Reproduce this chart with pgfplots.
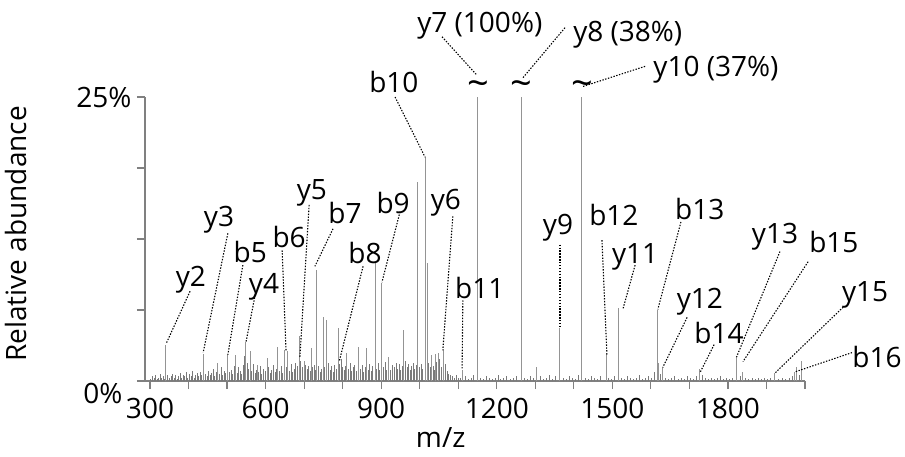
\documentclass[border=0pt]{standalone}
\usepackage{fontspec}
\setmainfont{Open Sans}
\usepackage{pgfplots}
\pgfplotsset{compat=1.18}
\tikzset{ptr/.style={black, line width=1.1pt, dash pattern=on 1.4pt off 1.5pt}}
\begin{document}
\fontsize{28}{33}\selectfont
\begin{tikzpicture}
\useasboundingbox (-145pt,-75pt) rectangle (760pt,381pt);
\begin{axis}[
  at={(0pt,0pt)}, anchor=south west,
  scale only axis, width=660pt, height=284pt,
  xmin=287, xmax=2000, ymin=0, ymax=25,
  axis lines=left,
  axis line style={-, black!50, line width=1.2pt},
  tick align=outside,
  major tick length=8pt, minor tick length=8pt,
  every tick/.style={black!50, line width=1.2pt},
  minor tick style={black!50, line width=1.2pt},
  xtick={300,600,...,1800},
  minor xtick={400,500,700,800,1000,1100,1300,1400,1600,1700,1900,2000},
  ytick={0}, yticklabels={0\%},
  yticklabel style={yshift=-12pt, xshift=-5pt},
  minor ytick={6.25,12.5,18.75},
  extra y ticks={25}, extra y tick labels={25\%},
  extra y tick style={yticklabel style={yshift=12pt, xshift=9pt}},
  /pgf/number format/assume math mode=true,
  /pgf/number format/set thousands separator={},
  tick label style={font=\fontsize{28}{33}\selectfont, black},
  clip mode=individual,
  xlabel={m/z}, ylabel={Relative abundance},
  label style={font=\fontsize{28}{33}\selectfont},
  xlabel style={at={(axis description cs:0.448,-0.20)}, anchor=center},
  ylabel style={at={(axis description cs:-0.1955,0.518)}, anchor=center},
]
% background noise
\addplot[ycomb, black!52, line width=0.6pt] coordinates {
(302,0.2)(306,0.4)(310,0.3)(314,0.5)(318,0.2)(322,0.3)(326,0.6)(330,0.3)(334,0.4)(338,0.2)
(346,0.5)(350,0.3)(354,0.4)(358,0.6)(362,0.3)(366,0.5)(370,0.2)(374,0.4)(378,0.7)(382,0.3)
(386,0.5)(390,0.4)(394,0.8)(398,0.3)(402,0.6)(406,0.4)(410,0.9)(414,0.3)(418,0.5)(422,0.7)
(426,0.4)(430,0.8)(434,0.5)(438,1.0)(444,0.6)(448,0.4)(452,0.9)(456,0.5)(460,0.7)(464,1.1)
(468,0.4)(472,0.8)(480,0.6)(484,1.2)(488,0.5)(492,0.9)(496,0.7)(506,0.8)(510,1.0)(514,0.6)
(518,1.3)(526,0.7)(530,1.2)(534,0.9)(538,0.6)(542,1.4)(546,2.2)(552,1.6)(556,1.1)(564,0.9)
(568,1.5)(572,0.7)(576,1.0)(582,0.8)(586,1.3)(590,0.6)(594,1.1)(598,0.9)(608,1.2)(612,0.7)
(616,1.0)(620,1.4)(624,0.8)(628,1.1)(636,0.9)(640,1.3)(644,0.7)(648,1.0)(654,1.2)(662,0.9)
(666,1.5)(670,0.8)(674,1.1)(678,1.6)(682,1.3)(691,1.8)(695,1.2)(704,1.4)(708,1.1)(712,1.3)
(716,0.9)(722,1.2)(726,1.4)(730,1.0)(737,1.3)(741,0.8)(745,1.1)(753,1.2)(757,0.9)(763,1.6)
(767,1.0)(771,1.3)(775,0.8)(779,1.4)(783,1.1)(792,1.5)(796,1.9)(800,1.2)(804,1.0)(808,1.3)
(815,1.1)(819,1.6)(823,0.9)(827,1.2)(831,1.4)(835,0.9)(846,1.1)(850,1.4)(854,0.8)(858,1.2)
(866,1.0)(870,1.5)(874,0.9)(878,1.3)(888,1.1)(892,1.6)(896,1.0)(906,1.2)(910,1.7)(914,1.0)
(918,1.3)(924,1.0)(928,1.4)(934,1.2)(938,1.6)(942,1.1)(946,1.5)(950,1.0)(954,1.3)(963,1.8)
(967,1.2)(971,1.5)(975,1.0)(979,1.3)(983,1.6)(987,1.1)(991,1.4)(999,1.2)(1004,1.5)(1008,1.1)
(1023,1.6)(1027,1.2)(1031,1.8)(1035,1.3)(1039,1.0)(1043,1.7)(1048,1.4)(1052,1.9)(1056,1.2)
(1067,1.5)(1071,0.9)(1075,0.6)(1080,0.5)(1085,0.4)(1090,0.3)(1095,0.5)(1100,0.3)
(1105,0.3)(1118,0.4)(1125,0.2)(1133,0.3)(1140,0.5)(1158,0.3)(1165,0.2)(1172,0.4)(1180,0.3)
(1188,0.2)(1195,0.3)(1203,0.5)(1210,0.2)(1218,0.3)(1226,0.4)(1234,0.2)(1242,0.3)(1250,0.4)
(1271,0.3)(1279,0.2)(1288,0.4)(1296,0.3)(1312,0.4)(1320,0.2)(1328,0.3)(1336,0.5)(1344,0.2)
(1352,0.4)(1372,0.3)(1380,0.2)(1388,0.4)(1396,0.3)(1404,0.2)(1412,0.5)(1430,0.3)(1438,0.2)
(1446,0.4)(1454,0.3)(1462,0.2)(1470,0.4)(1490,0.3)(1498,0.2)(1506,0.4)(1522,0.3)(1530,0.2)
(1538,0.4)(1546,0.3)(1554,0.2)(1562,0.3)(1570,0.5)(1578,0.2)(1586,0.3)(1594,0.4)(1602,0.3)
(1610,0.8)(1624,0.6)(1638,0.3)(1646,0.2)(1654,0.3)(1662,0.4)(1670,0.2)(1678,0.3)(1686,0.2)
(1694,0.4)(1702,0.3)(1710,0.2)(1718,0.4)(1733,0.5)(1740,0.3)(1748,0.2)(1756,0.3)(1764,0.2)
(1772,0.3)(1780,0.4)(1788,0.2)(1796,0.3)(1804,0.2)(1812,0.3)(1832,0.4)(1846,0.3)(1854,0.2)
(1862,0.3)(1870,0.2)(1878,0.3)(1886,0.2)(1894,0.3)(1902,0.2)(1910,0.3)(1930,0.2)(1940,0.3)
(1950,0.2)(1960,0.3)(1968,0.4)(1984,0.5)
};
% main peaks
\addplot[ycomb, black!42, line width=1pt] coordinates {
(341.5,3.2)(440,2.4)(476,1.6)(502,2.3)(521,2.3)(549,3.4)(560,2.6)(578,1.4)(604,2.0)(632,3.0)
(650,2.7)(658,2.6)(687,4.0)(700,1.8)(718,2.9)(733,9.8)(749,5.6)(759,5.4)(788,4.7)(811,2.5)
(842,3.0)(863,2.9)(884,10.4)(902,8.6)(920,2.1)(959,4.5)(995,17.5)(1014,19.7)(1019,10.4)(1030,2.3)
(1040,2.4)(1050,2.5)(1061,2.8)(1112,1.0)(1151,100)(1263,38)(1304,1.2)(1364,4.7)(1421,37)(1486,2.5)
(1515,6.4)(1616,6.25)(1619,1.6)(1631,1.2)(1727,1.1)(1823,2.0)(1839,0.8)(1922,0.7)(1974,0.8)(1979,1.2)
(1992,1.8)
};
% breaks
\node[font=\fontsize{38}{40}\selectfont] at (axis cs:1151,25) [yshift=8pt] {\textasciitilde};
\node[font=\fontsize{38}{40}\selectfont] at (axis cs:1263,25) [yshift=8pt] {\textasciitilde};
\node[font=\fontsize{38}{40}\selectfont] at (axis cs:1421,25) [yshift=8pt] {\textasciitilde};
% labels
\node at (axis cs:1156,31.3) {y7 (100\%)};
\node at (axis cs:1540,30.5) {y8 (38\%)};
\node at (axis cs:1769,27.4) {y10 (37\%)};
\node at (axis cs:933,26.3) {b10};
\node at (axis cs:720,16.6) {y5};
\node at (axis cs:806,14.8) {b7};
\node at (axis cs:661,12.7) {b6};
\node at (axis cs:858,11.3) {b8};
\node at (axis cs:931,15.7) {b9};
\node at (axis cs:1068,15.7) {y6};
\node at (axis cs:1156,8.2) {b11};
\node at (axis cs:406,8.9) {y2};
\node at (axis cs:479,14.2) {y3};
\node at (axis cs:560,11.4) {b5};
\node at (axis cs:596,8.3) {y4};
\node at (axis cs:1359,13.5) {y9};
\node at (axis cs:1504,14.6) {b12};
\node at (axis cs:1559,10.9) {y11};
\node at (axis cs:1727,15.1) {b13};
\node at (axis cs:1727,7.0) {y12};
\node at (axis cs:1777,4.2) {b14};
\node at (axis cs:1922,12.7) {y13};
\node at (axis cs:2075,12.2) {b15};
\node at (axis cs:2156,7.6) {y15};
\node at (axis cs:2187,2.1) {b16};
% pointers
\draw[ptr] (axis cs:1058,30.3) -- (axis cs:1149,26.9);
\draw[ptr] (axis cs:1377,31.1) -- (axis cs:1268,26.7);
\draw[ptr] (axis cs:1585,27.7) -- (axis cs:1421,25.9);
\draw[ptr] (axis cs:936,25.0) -- (axis cs:1014,19.7);
\draw[ptr] (axis cs:713,15.5) -- (axis cs:689,2.1);
\draw[ptr] (axis cs:775,13.4) -- (axis cs:728,10.1);
\draw[ptr] (axis cs:643,11.5) -- (axis cs:653,2.7);
\draw[ptr] (axis cs:853,10.1) -- (axis cs:791,1.7);
\draw[ptr] (axis cs:949,14.9) -- (axis cs:902,8.7);
\draw[ptr] (axis cs:1086,14.5) -- (axis cs:1060,2.7);
\draw[ptr] (axis cs:1112,7.1) -- (axis cs:1110,1.1);
\draw[ptr] (axis cs:404,7.9) -- (axis cs:342,3.3);
\draw[ptr] (axis cs:502,13.0) -- (axis cs:438,2.5);
\draw[ptr] (axis cs:541,10.2) -- (axis cs:502,2.3);
\draw[ptr] (axis cs:573,7.6) -- (axis cs:549,3.4);
\draw[ptr] (axis cs:1364,12.0) -- (axis cs:1364,4.8);
\draw[ptr] (axis cs:1473,12.4) -- (axis cs:1486,2.3);
\draw[ptr] (axis cs:1559,10.2) -- (axis cs:1528,6.4);
\draw[ptr] (axis cs:1678,14.0) -- (axis cs:1618,6.3);
\draw[ptr] (axis cs:1694,5.6) -- (axis cs:1631,1.2);
\draw[ptr] (axis cs:1764,3.2) -- (axis cs:1727,0.7);
\draw[ptr] (axis cs:1935,11.4) -- (axis cs:1821,2.0);
\draw[ptr] (axis cs:2008,10.5) -- (axis cs:1839,1.7);
\draw[ptr] (axis cs:2099,6.5) -- (axis cs:1922,0.7);
\draw[ptr] (axis cs:2122,2.5) -- (axis cs:1974,0.8);
\end{axis}
\end{tikzpicture}
\end{document}
